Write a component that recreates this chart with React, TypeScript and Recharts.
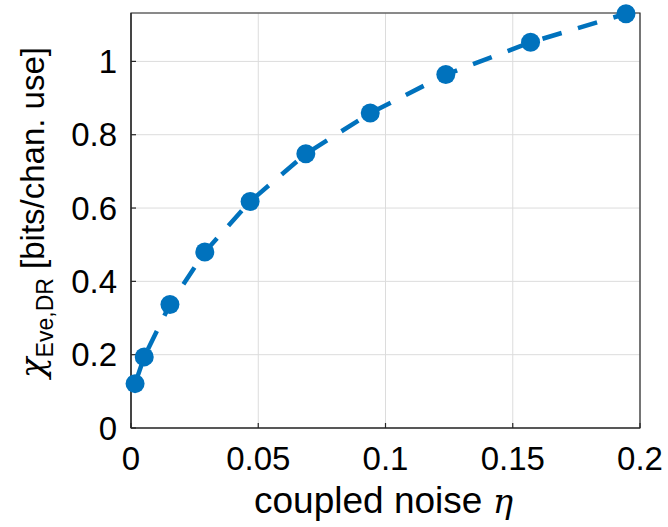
import { CartesianGrid, Line, LineChart, ReferenceArea, XAxis, YAxis } from "recharts";

const eta = [0.0016, 0.0052, 0.0153, 0.029, 0.0468, 0.0687, 0.094, 0.1237, 0.157, 0.1945];
const chiEve = [0.121, 0.194, 0.337, 0.48, 0.618, 0.748, 0.859, 0.964, 1.052, 1.13];
const xTicks = [0, 0.05, 0.1, 0.15, 0.2];
const yTicks = [0, 0.2, 0.4, 0.6, 0.8, 1];

const data = eta.map((x, i) => ({ eta: x, chi: chiEve[i] }));

const X_MAX = 0.2;
const Y_MAX = 1.132;

const BLUE = "#0072BD";
const AXIS = "#262626";
const SANS = "Liberation Sans, Arial, sans-serif";
const SERIF = "DejaVu Serif, Liberation Serif, serif";

function XLabel(props: any) {
  const vb = props.viewBox || { x: 131, y: 428, width: 509, height: 99 };
  return (
    <text x={vb.x + vb.width / 2 - 2} y={vb.y + 85} textAnchor="middle" fill="#000" fontFamily={SANS} fontSize={37}>
      coupled noise{" "}
      <tspan fontFamily={SERIF} fontStyle="italic" fontSize={34}>η</tspan>
    </text>
  );
}

function YLabel(props: any) {
  const vb = props.viewBox || { x: 0, y: 13, width: 131, height: 415 };
  const cx = vb.x + 44;
  const cy = vb.y + vb.height / 2 - 8;
  return (
    <text transform={`translate(${cx},${cy}) rotate(-90)`} textAnchor="middle" fill="#000" fontFamily={SANS} fontSize={33}>
      <tspan fontFamily={SERIF} fontStyle="italic" fontSize={34}>χ</tspan>
      <tspan fontSize={23} dy={9}>Eve,DR</tspan>
      <tspan dy={-9}> [bits/chan. use]</tspan>
    </text>
  );
}

export default function App() {
  return (
    <div style={{ position: "absolute", left: 0, top: 0, background: "#fff" }}>
      <LineChart width={668} height={527} data={data} margin={{ top: 13, right: 28, left: 0, bottom: 0 }}>
        <CartesianGrid stroke="#dcdcdc" strokeWidth={1} />
        <XAxis
          dataKey="eta"
          type="number"
          domain={[0, X_MAX]}
          ticks={xTicks}
          tickFormatter={(v) => String(v)}
          height={99}
          tickSize={-5}
          tickMargin={24}
          stroke={AXIS}
          strokeWidth={1.2}
          tick={{ fill: "#000", fontSize: 33, fontFamily: SANS }}
          label={{ content: (p: any) => <XLabel {...p} /> }}
        />
        <YAxis
          type="number"
          domain={[0, Y_MAX]}
          ticks={yTicks}
          tickFormatter={(v) => String(v)}
          width={131}
          tickSize={-5}
          tickMargin={19}
          stroke={AXIS}
          strokeWidth={1.2}
          tick={{ fill: "#000", fontSize: 33, fontFamily: SANS }}
          label={{ content: (p: any) => <YLabel {...p} /> }}
        />
        {/* box around the plot area */}
        <ReferenceArea
          x1={0}
          x2={X_MAX}
          y1={0}
          y2={Y_MAX}
          fill="none"
          fillOpacity={0}
          stroke={AXIS}
          strokeWidth={1.2}
          ifOverflow="visible"
        />
        <Line
          type="linear"
          dataKey="chi"
          stroke={BLUE}
          strokeWidth={4.5}
          strokeDasharray="20 17"
          isAnimationActive={false}
          dot={(p: any) => <circle key={p.index} cx={p.cx} cy={p.cy} r={9.5} fill={BLUE} stroke="none" />}
          activeDot={false}
        />
      </LineChart>
    </div>
  );
}
